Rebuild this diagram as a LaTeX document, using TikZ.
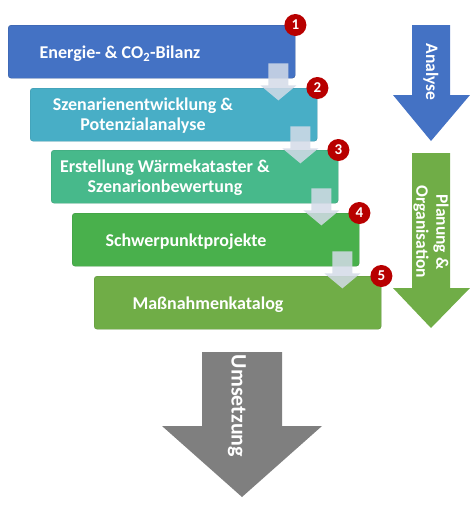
\documentclass[tikz,border=0pt]{standalone}
\usepackage{fontspec}
\setmainfont{Carlito}
\usetikzlibrary{calc}
\definecolor{stepone}{HTML}{4472C4}
\definecolor{steptwo}{HTML}{48AEC6}
\definecolor{stepthree}{HTML}{47B98B}
\definecolor{stepfour}{HTML}{49B04C}
\definecolor{stepfive}{HTML}{70AD47}
\definecolor{flowgray}{HTML}{D3DBE8}
\definecolor{badgered}{HTML}{B80000}
\definecolor{phasegray}{HTML}{7F7F7F}
\begin{document}
\begin{tikzpicture}[x=1pt,y=1pt]
\tikzstyle{box}=[rounded corners=3pt, minimum width=287pt, minimum height=53pt, inner sep=0pt, anchor=north west]
\tikzstyle{txt}=[text=white, align=center, font=\bfseries\fontsize{18}{20}\selectfont]
\tikzstyle{badge}=[circle, fill=badgered, minimum size=22pt, inner sep=0pt, text=white, font=\bfseries\fontsize{15}{15}\selectfont]
\tikzstyle{flow}=[fill=flowgray, opacity=0.85]
\tikzstyle{phase}=[text=white, align=center, rotate=-90, font=\bfseries\fontsize{17.5}{20}\selectfont]
\useasboundingbox (0,0) rectangle (470,-520);
% steps
\node[box, fill=stepone, draw=stepone!80!black] (b1) at (8,-25) {};
\node[box, fill=steptwo, draw=steptwo!85!black] (b2) at (30,-88) {};
\node[box, fill=stepthree, draw=stepthree!85!black] (b3) at (51,-150) {};
\node[box, fill=stepfour, draw=stepfour!85!black] (b4) at (72,-213) {};
\node[box, fill=stepfive, draw=stepfive!85!black] (b5) at (94,-276) {};
\node[txt] (t1) at ($(b1.west)+(112,-2)$) {Energie- \& CO\textsubscript{2}-Bilanz};
\node[txt] (t2) at ($(b2.west)+(113,-1)$) {Szenarienentwicklung \&\\Potenzialanalyse};
\node[txt] (t3) at ($(b3.west)+(114,-1)$) {Erstellung Wärmekataster \&\\Szenarionbewertung};
\node[txt] (t4) at ($(b4.west)+(114,-2)$) {Schwerpunktprojekte};
\node[txt] (t5) at ($(b5.west)+(114,-2)$) {Maßnahmenkatalog};
% arrows between steps
\fill[flow] ($(b1.south east)+(-27,15)$) -- ($(b1.south east)+(-7,15)$) -- ($(b1.south east)+(-7,-7)$) -- ($(b1.south east)+(1,-7)$) -- ($(b1.south east)+(-17,-22)$) -- ($(b1.south east)+(-35,-7)$) -- ($(b1.south east)+(-27,-7)$) -- cycle;
\fill[flow] ($(b2.south east)+(-27,15)$) -- ($(b2.south east)+(-7,15)$) -- ($(b2.south east)+(-7,-7)$) -- ($(b2.south east)+(1,-7)$) -- ($(b2.south east)+(-17,-22)$) -- ($(b2.south east)+(-35,-7)$) -- ($(b2.south east)+(-27,-7)$) -- cycle;
\fill[flow] ($(b3.south east)+(-27,15)$) -- ($(b3.south east)+(-7,15)$) -- ($(b3.south east)+(-7,-7)$) -- ($(b3.south east)+(1,-7)$) -- ($(b3.south east)+(-17,-22)$) -- ($(b3.south east)+(-35,-7)$) -- ($(b3.south east)+(-27,-7)$) -- cycle;
\fill[flow] ($(b4.south east)+(-27,15)$) -- ($(b4.south east)+(-7,15)$) -- ($(b4.south east)+(-7,-7)$) -- ($(b4.south east)+(1,-7)$) -- ($(b4.south east)+(-17,-22)$) -- ($(b4.south east)+(-35,-7)$) -- ($(b4.south east)+(-27,-7)$) -- cycle;
% numbers
\node[badge] (n1) at (b1.north east) {1};
\node[badge] (n2) at (b2.north east) {2};
\node[badge] (n3) at (b3.north east) {3};
\node[badge] (n4) at (b4.north east) {4};
\node[badge] (n5) at (b5.north east) {5};
% phases
\fill[stepone] (412,-25) -- (450,-25) -- (450,-95) -- (470,-95) -- (431,-141) -- (393,-95) -- (412,-95) -- cycle;
\node[phase] (p1) at (431,-72) {Analyse};
\fill[stepfive] (412,-153) -- (450,-153) -- (450,-288) -- (470,-288) -- (431,-328) -- (393,-288) -- (412,-288) -- cycle;
\node[phase] (p2) at (431,-232) {Planung \&\\Organisation};
\fill[phasegray] (202,-352) -- (282,-352) -- (282,-426) -- (322,-426) -- (242,-497) -- (162,-426) -- (202,-426) -- cycle;
\node[phase, font=\bfseries\fontsize{22}{24}\selectfont] (p3) at (237,-406) {Umsetzung};
\end{tikzpicture}
\end{document}
